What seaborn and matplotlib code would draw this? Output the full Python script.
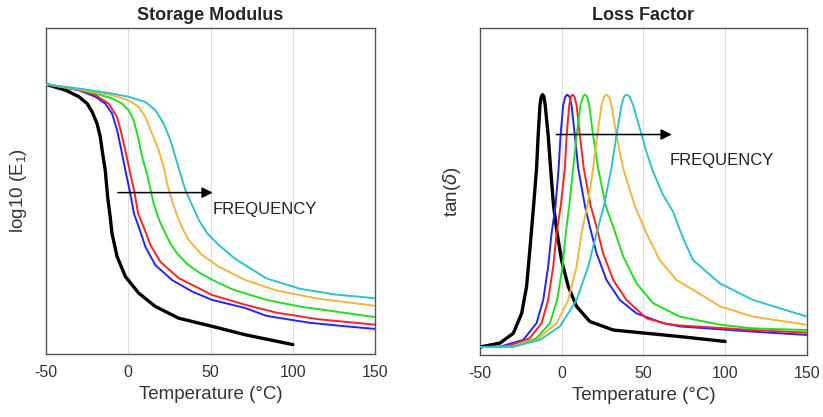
import matplotlib
matplotlib.use("Agg")
import matplotlib.pyplot as plt
import seaborn as sns

# storage modulus curves (temperature in degC, normalised log10(E1))
sm_black_t = [-50, -38, -30, -25, -22, -19, -17, -15.6, -14, -12.5, -11, -9.9, -6.8, -1.8, 6.3, 16.4, 30.6, 50.9, 71.2, 100]
sm_black_y = [0.827, 0.809, 0.789, 0.768, 0.743, 0.707, 0.666, 0.615, 0.564, 0.480, 0.421, 0.370, 0.299, 0.238, 0.187, 0.146, 0.110, 0.085, 0.059, 0.029]
sm_blue_t = [-50, -30, -20, -14, -9.9, -6.8, -4.2, -1.8, 1.2, 3.5, 6.3, 10.4, 16.4, 26.6, 38.7, 50.9, 71.2, 84, 110, 130, 150]
sm_blue_y = [0.827, 0.809, 0.789, 0.768, 0.738, 0.687, 0.625, 0.564, 0.493, 0.430, 0.391, 0.329, 0.273, 0.227, 0.192, 0.166, 0.141, 0.117, 0.096, 0.086, 0.077]
sm_red_t = [-50, -30, -20, -11.9, -6.8, -4.2, -1.8, 1.2, 3.9, 6.0, 9.3, 13.4, 19.5, 30.6, 42.8, 50.9, 71.2, 90, 115, 150]
sm_red_y = [0.827, 0.810, 0.794, 0.768, 0.727, 0.677, 0.625, 0.554, 0.493, 0.430, 0.391, 0.335, 0.283, 0.233, 0.202, 0.181, 0.151, 0.127, 0.107, 0.090]
sm_green_t = [-50, -30, -20, -9.9, -3.8, 0.2, 3.3, 5.9, 8.4, 11.3, 15.4, 18.5, 21.5, 25.5, 29.6, 36, 43.7, 54, 64, 84, 105, 125, 150]
sm_green_y = [0.827, 0.811, 0.799, 0.784, 0.768, 0.748, 0.717, 0.666, 0.605, 0.554, 0.462, 0.415, 0.381, 0.340, 0.309, 0.275, 0.248, 0.220, 0.197, 0.166, 0.145, 0.131, 0.113]
sm_orange_t = [-50, -30, -9.9, 0.2, 6.3, 10.4, 14.4, 18.5, 21.5, 23.6, 26.6, 30, 33, 36.7, 44.8, 54.9, 71.2, 90, 115, 150]
sm_orange_y = [0.827, 0.812, 0.794, 0.778, 0.758, 0.727, 0.677, 0.625, 0.574, 0.523, 0.470, 0.420, 0.385, 0.350, 0.304, 0.268, 0.227, 0.195, 0.170, 0.148]
sm_cyan_t = [-50, -30, -9.9, 0.2, 10.4, 16.4, 21.5, 25.6, 28.6, 31.6, 34.7, 38.5, 43, 48, 54.9, 65, 71.2, 84, 104.5, 125, 150]
sm_cyan_y = [0.827, 0.814, 0.799, 0.789, 0.773, 0.748, 0.707, 0.656, 0.605, 0.554, 0.503, 0.460, 0.410, 0.370, 0.335, 0.292, 0.272, 0.232, 0.200, 0.183, 0.171]

# loss factor curves (temperature in degC, normalised tan(delta))
lf_black_t = [-50, -37.8, -29.6, -24.5, -21.5, -19.5, -17.2, -15.4, -14.4, -13.3, -12.5, -11.7, -10.9, -10.1, -8.3, -6.8, -5.0, -2.8, -0.1, 4.0, 9.1, 17.2, 31.5, 51.8, 72.2, 100]
lf_black_y = [0.024, 0.036, 0.066, 0.127, 0.209, 0.321, 0.456, 0.570, 0.672, 0.764, 0.790, 0.796, 0.790, 0.764, 0.672, 0.570, 0.456, 0.372, 0.290, 0.209, 0.148, 0.102, 0.076, 0.066, 0.056, 0.041]
lf_blue_t = [-50, -37.8, -23.5, -15.4, -11.3, -8.3, -6.2, -3.8, -1.9, -0.7, 0.9, 2.2, 3.4, 4.7, 6.0, 8.0, 10.1, 14.2, 17.2, 21.3, 27.4, 35.5, 45.7, 62.0, 72.2, 117, 150]
lf_blue_y = [0.024, 0.025, 0.046, 0.097, 0.168, 0.270, 0.372, 0.456, 0.570, 0.672, 0.764, 0.790, 0.796, 0.790, 0.764, 0.672, 0.570, 0.456, 0.392, 0.311, 0.229, 0.168, 0.127, 0.097, 0.087, 0.071, 0.061]
lf_red_t = [-50, -33.7, -19.5, -12.3, -8.3, -5.2, -3.1, -0.6, 1.9, 3.0, 4.6, 5.6, 6.6, 7.8, 9.1, 11.1, 13.5, 17.7, 21.3, 25.3, 31.5, 39.6, 51.8, 64.1, 72.2, 117, 150]
lf_red_y = [0.024, 0.025, 0.051, 0.097, 0.168, 0.270, 0.372, 0.456, 0.570, 0.672, 0.764, 0.790, 0.796, 0.790, 0.764, 0.672, 0.570, 0.456, 0.392, 0.311, 0.229, 0.168, 0.112, 0.095, 0.090, 0.076, 0.068]
lf_green_t = [-50, -29.6, -15.4, -7.2, -2.8, 0.5, 2.5, 4.6, 7.0, 9.1, 11.5, 13.0, 14.2, 15.5, 16.8, 19.2, 22.3, 26.9, 31.5, 37.6, 45.7, 55.9, 72.2, 97, 117, 150]
lf_green_y = [0.024, 0.025, 0.051, 0.097, 0.168, 0.270, 0.372, 0.456, 0.570, 0.672, 0.764, 0.790, 0.796, 0.790, 0.764, 0.672, 0.570, 0.456, 0.392, 0.301, 0.219, 0.158, 0.117, 0.092, 0.081, 0.076]
lf_orange_t = [-50, -29.6, -15.4, -3.1, 4.0, 9.1, 12.1, 15.7, 19.2, 21.7, 24.4, 26.0, 27.4, 28.9, 30.4, 33.5, 37.6, 44.7, 51.8, 59.9, 70.2, 80, 97, 117, 150]
lf_orange_y = [0.024, 0.025, 0.046, 0.097, 0.168, 0.270, 0.372, 0.456, 0.570, 0.672, 0.764, 0.790, 0.796, 0.790, 0.764, 0.672, 0.570, 0.456, 0.372, 0.290, 0.229, 0.200, 0.148, 0.117, 0.092]
lf_cyan_t = [-50, -29.6, -13.3, -1.1, 9.1, 16.2, 21.3, 25.8, 30.4, 33.5, 36.6, 38.1, 39.6, 41.5, 43.7, 47.8, 51.8, 55.9, 62.0, 68.1, 74, 80.3, 96.6, 117, 137, 150]
lf_cyan_y = [0.024, 0.025, 0.046, 0.087, 0.168, 0.270, 0.372, 0.456, 0.570, 0.672, 0.764, 0.790, 0.796, 0.790, 0.764, 0.692, 0.621, 0.560, 0.489, 0.438, 0.360, 0.290, 0.219, 0.168, 0.137, 0.117]

x_ticks = [-50, 0, 50, 100, 150]

sns.set_theme(style="white")
plt.rcParams["font.family"] = ["Liberation Sans", "DejaVu Sans"]
plt.rcParams["mathtext.default"] = "regular"

colors = {
    "black": "black",
    "blue": "#2424ff",
    "red": "#ff2222",
    "green": "#22dd22",
    "orange": "#f2b53e",
    "cyan": "#30c2c8",
}

storage = [
    ("black", sm_black_t, sm_black_y),
    ("blue", sm_blue_t, sm_blue_y),
    ("red", sm_red_t, sm_red_y),
    ("green", sm_green_t, sm_green_y),
    ("orange", sm_orange_t, sm_orange_y),
    ("cyan", sm_cyan_t, sm_cyan_y),
]
loss = [
    ("black", lf_black_t, lf_black_y),
    ("blue", lf_blue_t, lf_blue_y),
    ("red", lf_red_t, lf_red_y),
    ("green", lf_green_t, lf_green_y),
    ("orange", lf_orange_t, lf_orange_y),
    ("cyan", lf_cyan_t, lf_cyan_y),
]

fig = plt.figure(figsize=(8.23, 4.17), dpi=100)
ax1 = fig.add_axes([0.0559, 0.151, 0.3998, 0.782])
ax2 = fig.add_axes([0.5832, 0.149, 0.3973, 0.784])


def draw(ax, series, title, ylabel, arrow, text_pos):
    for x in [0, 50, 100]:
        ax.axvline(x, color="#dddddd", lw=0.8, zorder=0)
    for name, t, y in series:
        sns.lineplot(x=t, y=y, ax=ax, color=colors[name], sort=False,
                     lw=2.4 if name == "black" else 1.4, zorder=3)
    ax.set_xlim(-50, 150)
    ax.set_ylim(0, 1)
    ax.set_xticks(x_ticks)
    ax.set_xticklabels([str(v) for v in x_ticks])
    ax.set_yticks([])
    ax.tick_params(axis="x", direction="in", length=3, width=0.8,
                   color="#555555", labelsize=11.5, labelcolor="#333333", pad=8)
    for s in ax.spines.values():
        s.set_color("#555555")
        s.set_linewidth(1.0)
    ax.set_title(title, fontsize=13, fontweight="bold", pad=6)
    ax.set_xlabel("Temperature (°C)", fontsize=13.5, color="#333333", labelpad=4)
    ax.set_ylabel(ylabel, fontsize=13.5, color="#333333", labelpad=12)
    (x0, y0), (x1, y1) = arrow
    ax.annotate("", xy=(x1, y1), xytext=(x0, y0),
                arrowprops=dict(arrowstyle="-|>", color="black", lw=1.1,
                                mutation_scale=16), zorder=5)
    ax.text(text_pos[0], text_pos[1], "FREQUENCY", fontsize=12,
            color="#222222", va="center", ha="left", zorder=5)


draw(ax1, storage, "Storage Modulus", "log10 (E$_1$)",
     ((-8, 0.495), (53, 0.495)), (51, 0.444))
draw(ax2, loss, "Loss Factor", r"tan($\mathit{\delta}$)",
     ((-5, 0.674), (69, 0.674)), (66, 0.596))

fig.savefig("out.png", dpi=100)
